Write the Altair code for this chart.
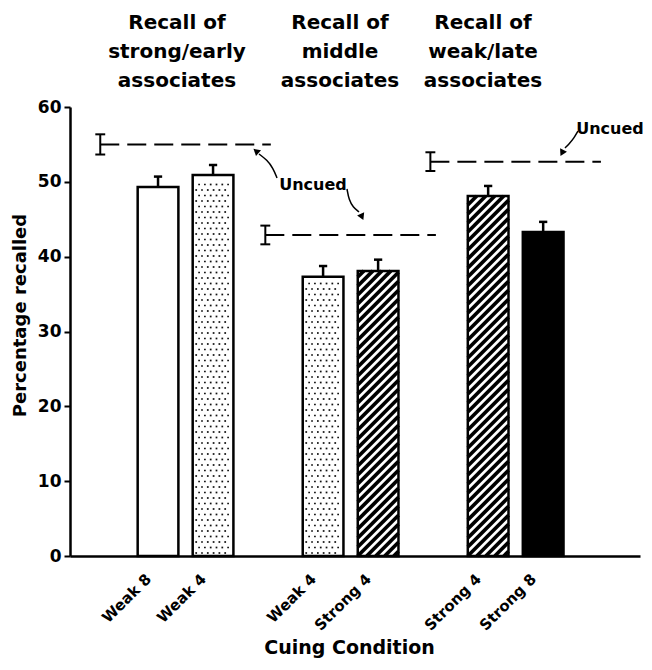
import altair as alt
import pandas as pd

# ---------------- data ----------------
groups = ["strong/early", "middle", "weak/late"]
group_titles = [
    ["Recall of", "strong/early", "associates"],
    ["Recall of", "middle", "associates"],
    ["Recall of", "weak/late", "associates"],
]
conditions = ["Weak 8", "Weak 4", "Weak 4", "Strong 4", "Strong 4", "Strong 8"]
bar_group = [0, 0, 1, 1, 2, 2]
bar_rank = [0, 1, 0, 1, 0, 1]
cued_mean = [49.3, 50.9, 37.3, 38.1, 48.1, 43.3]
cued_se = [1.4, 1.35, 1.45, 1.5, 1.35, 1.35]
uncued_mean = [55.0, 42.9, 52.7]
uncued_se = [1.35, 1.25, 1.25]
y_ticks = [0, 10, 20, 30, 40, 50, 60]
fill_style = {"Weak 8": "open", "Weak 4": "dots", "Strong 4": "hatch", "Strong 8": "solid"}

# ---------------- layout constants ----------------
W, H = 570, 449
XD = (-0.6, 9.76)
YD = (0, 60)
PXX = W / (XD[1] - XD[0])
PXY = H / (YD[1] - YD[0])
BAR_HALF = 0.37
BW = 2 * BAR_HALF * PXX
CAP_BAR = 0.075
CAP_UNC = 0.09
FONT = "DejaVu Sans"

bars_df = pd.DataFrame({
    "condition": conditions,
    "group": bar_group,
    "rank": bar_rank,
    "mean": cued_mean,
    "se": cued_se,
    "style": [fill_style[c] for c in conditions],
})
unc_df = pd.DataFrame({"group": [0, 1, 2], "mean": uncued_mean, "se": uncued_se})

slots = [3 * g + r + 1 for g, r in zip(bar_group, bar_rank)]
label_expr = " : ".join(
    f"datum.value == {s} ? '{c}'" for s, c in zip(slots, conditions)
) + " : ''"

XS = alt.Scale(domain=list(XD), nice=False, zero=False)
YS = alt.Scale(domain=list(YD), nice=False, zero=False)

X_AXIS = alt.Axis(
    values=slots, labelExpr=label_expr, labelAngle=-45, labelAlign="right",
    labelBaseline="middle", labelFont=FONT, labelFontWeight="bold", labelFontSize=15,
    labelColor="black", labelPadding=20, labelOffset=-10, ticks=False, grid=False,
    domainColor="black", domainWidth=2.5, labelOverlap=False,
    title="Cuing Condition", titleFont=FONT, titleFontWeight="bold", titleFontSize=19,
    titleColor="black", titleX=279, titleY=97, titleBaseline="alphabetic", titleAlign="center",
)
Y_AXIS = alt.Axis(
    values=y_ticks, format="d", labelFont=FONT, labelFontWeight="bold", labelFontSize=17,
    labelColor="black", labelPadding=3, tickSize=6, tickWidth=2, tickColor="black",
    grid=False, domainColor="black", domainWidth=2.5,
    title="Percentage recalled", titleFont=FONT, titleFontWeight="bold", titleFontSize=18,
    titleColor="black", titleX=-45, titleY=208, titleAngle=270, titleBaseline="alphabetic",
    titleAlign="center",
)


def X(f):
    return alt.X(f"{f}:Q", scale=XS, axis=X_AXIS)


def Y(f):
    return alt.Y(f"{f}:Q", scale=YS, axis=Y_AXIS)


def bar_base():
    return alt.Chart(bars_df).transform_calculate(
        slot="3 * datum.group + datum.rank + 1"
    ).transform_calculate(
        xl=f"datum.slot - {BAR_HALF}", xr=f"datum.slot + {BAR_HALF}",
        top="datum.mean + datum.se", zero="0",
        fillc="datum.style == 'solid' ? 'black' : 'white'",
    )


bar_fill = bar_base().mark_rect().encode(
    x=X("xl"), x2="xr", y=Y("mean"), y2="zero",
    fill=alt.Fill("fillc:N", scale=None),
)

dots = bar_base().transform_filter("datum.style == 'dots'").transform_calculate(
    rows=f"sequence(0, floor((datum.mean * {PXY} - 2) / 5.5))"
).transform_flatten(["rows"], as_=["row"]).transform_calculate(
    cols="sequence(0, 7)"
).transform_flatten(["cols"], as_=["col"]).transform_calculate(
    dxp="3.5 + datum.col * 5.8 + (datum.row % 2) * 2.9",
    dyp="3 + datum.row * 5.5",
).transform_filter(f"datum.dxp < {BW - 2.5}").transform_calculate(
    dxu=f"datum.xl + datum.dxp / {PXX}", dyu=f"datum.dyp / {PXY}"
).mark_square(size=3, color="#111111", opacity=1).encode(x=X("dxu"), y=Y("dyu"))

S = 9.0
hatch = bar_base().transform_filter("datum.style == 'hatch'").transform_calculate(
    hpx=f"datum.mean * {PXY}"
).transform_calculate(
    ks=f"sequence(-ceil({BW} / {S}), ceil(datum.hpx / {S}) + 1)"
).transform_flatten(["ks"], as_=["k"]).transform_calculate(
    c=f"datum.k * {S}"
).transform_calculate(
    xa="max(0, -datum.c)", xb=f"min({BW}, datum.hpx - datum.c)"
).transform_filter("datum.xb > datum.xa + 0.5").transform_calculate(
    x1u=f"datum.xl + datum.xa / {PXX}", x2u=f"datum.xl + datum.xb / {PXX}",
    y1u=f"(datum.xa + datum.c) / {PXY}", y2u=f"(datum.xb + datum.c) / {PXY}",
).mark_rule(strokeWidth=3.7, color="black", strokeCap="butt").encode(
    x=X("x1u"), x2="x2u", y=Y("y1u"), y2="y2u"
)

bar_outline = bar_base().mark_rect(fillOpacity=0, stroke="black", strokeWidth=2.5).encode(
    x=X("xl"), x2="xr", y=Y("mean"), y2="zero"
)

err_v = bar_base().mark_rule(color="black", strokeWidth=2.5).encode(
    x=X("slot"), y=Y("mean"), y2="top"
)
err_cap = bar_base().transform_calculate(
    cl=f"datum.slot - {CAP_BAR}", cr=f"datum.slot + {CAP_BAR}"
).mark_rule(color="black", strokeWidth=2.5).encode(x=X("cl"), x2="cr", y=Y("top"))


def unc_base():
    return alt.Chart(unc_df).transform_calculate(
        start="3 * datum.group - 0.05", end="3 * datum.group + 3.05",
        lo="datum.mean - datum.se", hi="datum.mean + datum.se",
    ).transform_calculate(
        cl=f"datum.start - {CAP_UNC}", cr=f"datum.start + {CAP_UNC}"
    )


unc_line = unc_base().mark_rule(color="black", strokeWidth=2, strokeDash=[19, 8]).encode(
    x=X("start"), x2="end", y=Y("mean")
)
unc_v = unc_base().mark_rule(color="black", strokeWidth=2).encode(x=X("start"), y=Y("lo"), y2="hi")
unc_cap_hi = unc_base().mark_rule(color="black", strokeWidth=2).encode(x=X("cl"), x2="cr", y=Y("hi"))
unc_cap_lo = unc_base().mark_rule(color="black", strokeWidth=2).encode(x=X("cl"), x2="cr", y=Y("lo"))


# ---------------- annotations ----------------
def ux(px):
    return XD[0] + (px - 70) / PXX


def uy(py):
    return (556 - py) / PXY


arrow_paths = {
    "a1": [(277, 178), (273, 168), (267, 160), (259, 154)],
    "a2": [(347, 189), (349, 200), (353, 207), (359, 212)],
    "a3": [(578, 131), (574, 138), (569, 144), (565, 148)],
}
arrow_rows = []
for aid, pts in arrow_paths.items():
    for i, (px, py) in enumerate(pts):
        arrow_rows.append({"aid": aid, "o": i, "ax": ux(px), "ay": uy(py)})
arrows_df = pd.DataFrame(arrow_rows)
arrows = alt.Chart(arrows_df).mark_line(color="black", strokeWidth=1.5, interpolate="basis").encode(
    x=X("ax"), y=Y("ay"), detail="aid:N", order="o:Q"
)
heads_df = pd.DataFrame({
    "hx": [ux(256), ux(362), ux(562)],
    "hy": [uy(151), uy(217), uy(153)],
    "ang": [311, 156, 207],
})
heads = alt.Chart(heads_df).mark_point(
    shape="triangle-up", filled=True, size=60, color="black", opacity=1
).encode(x=X("hx"), y=Y("hy"), angle=alt.Angle("ang:Q", scale=None))

uncued_texts = []
for (px, py) in [(313, 185), (610, 129)]:
    uncued_texts.append(
        alt.Chart(pd.DataFrame({"t": ["Uncued"]})).mark_text(
            font=FONT, fontWeight="bold", fontSize=16, color="black",
            align="center", baseline="middle",
        ).encode(x=alt.value(px - 70), y=alt.value(py - 107), text="t:N")
    )

title_layers = []
for lines, px in zip(group_titles, [177, 340, 483]):
    title_layers.append(
        alt.Chart(pd.DataFrame({"t": [lines]})).mark_text(
            font=FONT, fontWeight="bold", fontSize=20, color="black",
            align="center", baseline="top", lineHeight=29,
        ).encode(x=alt.value(px - 70), y=alt.value(-94), text="t")
    )

chart = alt.layer(
    bar_fill, dots, hatch, bar_outline, err_v, err_cap,
    unc_line, unc_v, unc_cap_hi, unc_cap_lo,
    arrows, heads, *uncued_texts, *title_layers,
).properties(
    width=W, height=H,
    background="white",
    autosize=alt.AutoSizeParams(type="none"),
    padding={"left": 62, "top": 99, "right": 4, "bottom": 106},
).configure_view(stroke=None)

chart.save("out.html", embed_options={"renderer": "svg", "actions": False})
